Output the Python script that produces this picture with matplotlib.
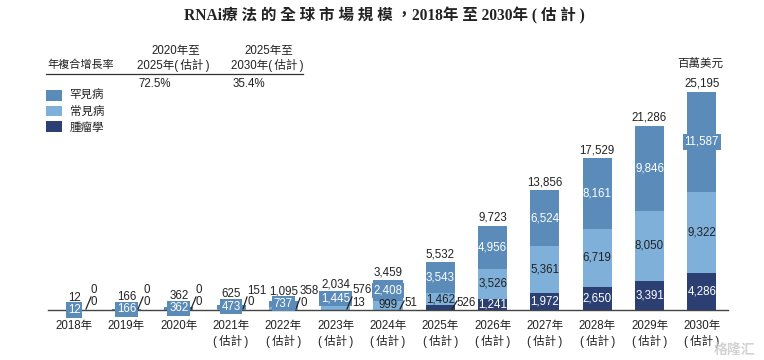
import matplotlib.pyplot as plt

plt.rcParams['font.family'] = ['Liberation Sans', 'Noto Sans CJK TC']

est = '(\u2009估計\u2009)'
years = ['2018年', '2019年', '2020年', '2021年\n' + est, '2022年\n' + est, '2023年\n' + est, '2024年\n' + est,
         '2025年\n' + est, '2026年\n' + est, '2027年\n' + est, '2028年\n' + est, '2029年\n' + est, '2030年\n' + est]
totals = [12, 166, 362, 625, 1095, 2034, 3459, 5532, 9723, 13856, 17529, 21286, 25195]
rare = [12, 166, 362, 473, 737, 1445, 2408, 3543, 4956, 6524, 8161, 9846, 11587]
common = [0, 0, 0, 151, 358, 576, 999, 1462, 3526, 5361, 6719, 8050, 9322]
oncology = [0, 0, 0, 0, 0, 13, 51, 526, 1241, 1972, 2650, 3391, 4286]

rare_color = '#5b8bb9'
common_color = '#7fb0da'
onc_color = '#2b3f72'
text_color = '#222222'
size = 8.3

fig = plt.figure(figsize=(7.64, 3.6), dpi=100)
ax = fig.add_axes([48 / 764, 50 / 360, 680 / 764, 230 / 360])

x = list(range(len(years)))
rare_bottom = [a + b for a, b in zip(oncology, common)]
b1 = ax.bar(x, oncology, width=0.555, color=onc_color)
b2 = ax.bar(x, common, width=0.555, bottom=oncology, color=common_color)
b3 = ax.bar(x, rare, width=0.555, bottom=rare_bottom, color=rare_color)

ax.set_xlim(-0.5, 12.5)
ax.set_ylim(0, 26559)
ax.set_yticks([])
ax.set_xticks(x)
ax.set_xticklabels(years, fontsize=size, color=text_color, linespacing=1.25, va='top')
ax.tick_params(axis='x', length=0, pad=7)
for s in ['top', 'left', 'right']:
    ax.spines[s].set_visible(False)
ax.spines['bottom'].set_color('#444444')
ax.spines['bottom'].set_linewidth(1.0)

# labels inside the bars
for i in x:
    boxed = i <= 6 or i == 12
    box = dict(boxstyle='square,pad=0.15', fc=rare_color, ec='none') if boxed else None
    ax.text(i, rare_bottom[i] + rare[i] / 2, f'{rare[i]:,}', color='white', fontsize=size,
            ha='center', va='center', bbox=box, zorder=5)
    if i >= 6:
        ax.text(i, oncology[i] + common[i] / 2, f'{common[i]:,}', color=text_color, fontsize=size,
                ha='center', va='center', zorder=5)
    if i >= 8:
        ax.text(i, oncology[i] / 2, f'{oncology[i]:,}', color='white', fontsize=size,
                ha='center', va='center', zorder=5)

# totals, the small bars sit higher because of the boxes
total_pad = [12, 11.6, 11, 10.6, 9.5, 8, 8, 8, 8, 8, 8, 8, 8]
for i in x:
    ax.annotate(f'{totals[i]:,}', (i, totals[i]), xytext=(0, total_pad[i] * 0.72), textcoords='offset points',
                ha='center', va='center', fontsize=size, color=text_color)

# overlay in pixel coordinates for the text around the chart
ov = fig.add_axes([0, 0, 1, 1])
ov.set_xlim(0, 764)
ov.set_ylim(360, 0)
ov.axis('off')
ov.patch.set_alpha(0)

# leader lines and the values pulled out of the small bars
leaders = [(86, 91, 297), (138, 143, 297), (191, 196, 297), (243, 247, 297), (296, 300, 298),
           (347, 352, 297), (400, 404, 301), (452, 457, 301)]
for x0, x1, y1 in leaders:
    ov.plot([x0, x1], [309, y1], color='#222222', lw=0.9)

common_pos = [(94, 290), (147, 290), (199, 290), (257, 291), (309, 291), (362, 290)]
onc_pos = [(94, 302), (147, 302), (199, 302), (251, 302), (304, 303), (359, 303), (411, 303), (466, 303)]
for i, (px, py) in enumerate(common_pos):
    ov.text(px, py, f'{common[i]:,}', ha='center', va='center', fontsize=size, color=text_color)
for i, (px, py) in enumerate(onc_pos):
    ov.text(px, py, f'{oncology[i]:,}', ha='center', va='center', fontsize=size, color=text_color)

title = 'RNAi療 法 的 全 球 市 場 規 模 ，2018年 至 2030年 ( 估 計 )'
ov.text(384.5, 16, title, ha='center', va='center', fontsize=11.2, fontweight='bold', color=text_color,
        family=['Liberation Serif', 'Noto Sans CJK TC'])

ov.text(47, 65, '年複合增長率', ha='left', va='center', fontsize=size - 0.3, color=text_color)
ov.text(176, 51, '2020年至', ha='center', va='center', fontsize=size, color=text_color)
ov.text(173, 65, '2025年' + est, ha='center', va='center', fontsize=size, color=text_color)
ov.text(269, 51, '2025年至', ha='center', va='center', fontsize=size, color=text_color)
ov.text(267, 65, '2030年' + est, ha='center', va='center', fontsize=size, color=text_color)
ov.plot([46, 303], [74, 74], color='#333333', lw=0.9)
ov.text(138, 84, '72.5%', ha='left', va='center', fontsize=size, color=text_color)
ov.text(233, 84, '35.4%', ha='left', va='center', fontsize=size, color=text_color)
ov.text(700, 64, '百萬美元', ha='center', va='center', fontsize=size, color=text_color, style='italic')

# watermark in the corner of the source image
ov.text(735, 350, '格隆汇', ha='center', va='center', fontsize=10, color='#c9c9c9', alpha=0.8,
        family=['Noto Sans CJK SC'], fontweight='bold')

fig.legend([b3, b2, b1], ['罕見病', '常見病', '腫瘤學'], loc='upper left', bbox_to_anchor=(46 / 764, 1 - 90 / 360),
           frameon=False, fontsize=size, handlelength=1.4, handleheight=1.05, handletextpad=0.65,
           labelspacing=0.3, borderpad=0, borderaxespad=0, labelcolor=text_color)

plt.savefig('out.png', dpi=100)
